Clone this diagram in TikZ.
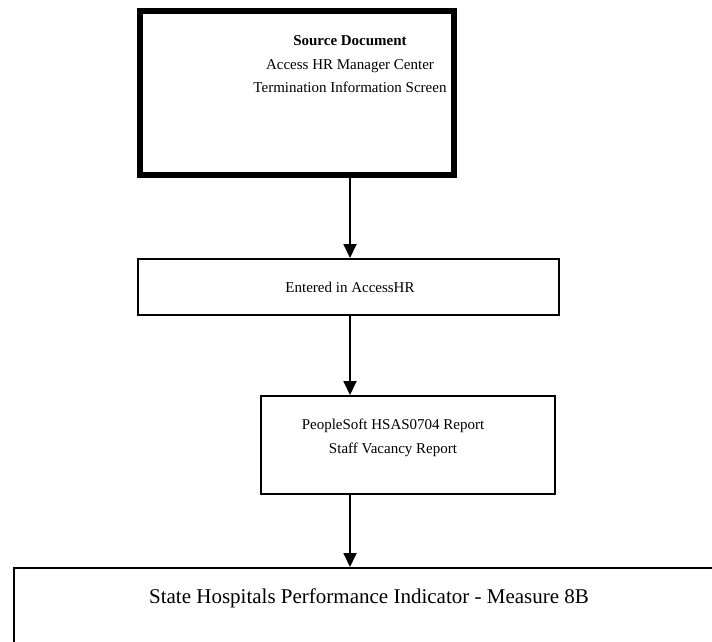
\documentclass[tikz,border=0pt]{standalone}
\usepackage{fontspec}
\setmainfont{Liberation Serif}
\usetikzlibrary{arrows.meta, positioning}

\begin{document}
\begin{tikzpicture}[x=1pt, y=-1pt,
    box/.style={rectangle, draw=black, line width=2pt, inner sep=0pt},
    srcbox/.style={box, line width=6.5pt},
    txt/.style={font=\fontsize{15}{23.5}\selectfont, align=center, inner sep=0pt},
    arrow/.style={-{Triangle[length=14pt, width=13pt]}, line width=1.8pt}
]
\useasboundingbox (0,0) rectangle (712,641);
\coordinate (spine) at (350,0);

\node[srcbox, minimum width=314pt, minimum height=164pt,
      label={[txt, anchor=north, xshift=53pt, yshift=-28pt]north:{\textbf{Source Document}\\Access HR Manager Center\\Termination Information Screen}}]
      (src) at (297,93) {};
\node[box, minimum width=421pt, minimum height=56pt,
      label={[txt, xshift=1.5pt]center:Entered in AccessHR}]
      (entered) at (348.5,287) {};
\node[box, minimum width=294pt, minimum height=98pt,
      label={[txt, xshift=-15pt, yshift=7pt]center:{PeopleSoft HSAS0704 Report\\Staff Vacancy Report}}]
      (report) at (408,445) {};
\node[box, minimum width=716pt, minimum height=112pt,
      label={[txt, font=\fontsize{21}{25}\selectfont, anchor=north, xshift=-3pt, yshift=-22pt]north:State Hospitals Performance Indicator - Measure 8B}]
      (measure) at (372,624) {};

\draw[arrow] (src.south -| spine) -- (entered.north -| spine);
\draw[arrow] (entered.south -| spine) -- (report.north -| spine);
\draw[arrow] (report.south -| spine) -- (measure.north -| spine);
\end{tikzpicture}
\end{document}
